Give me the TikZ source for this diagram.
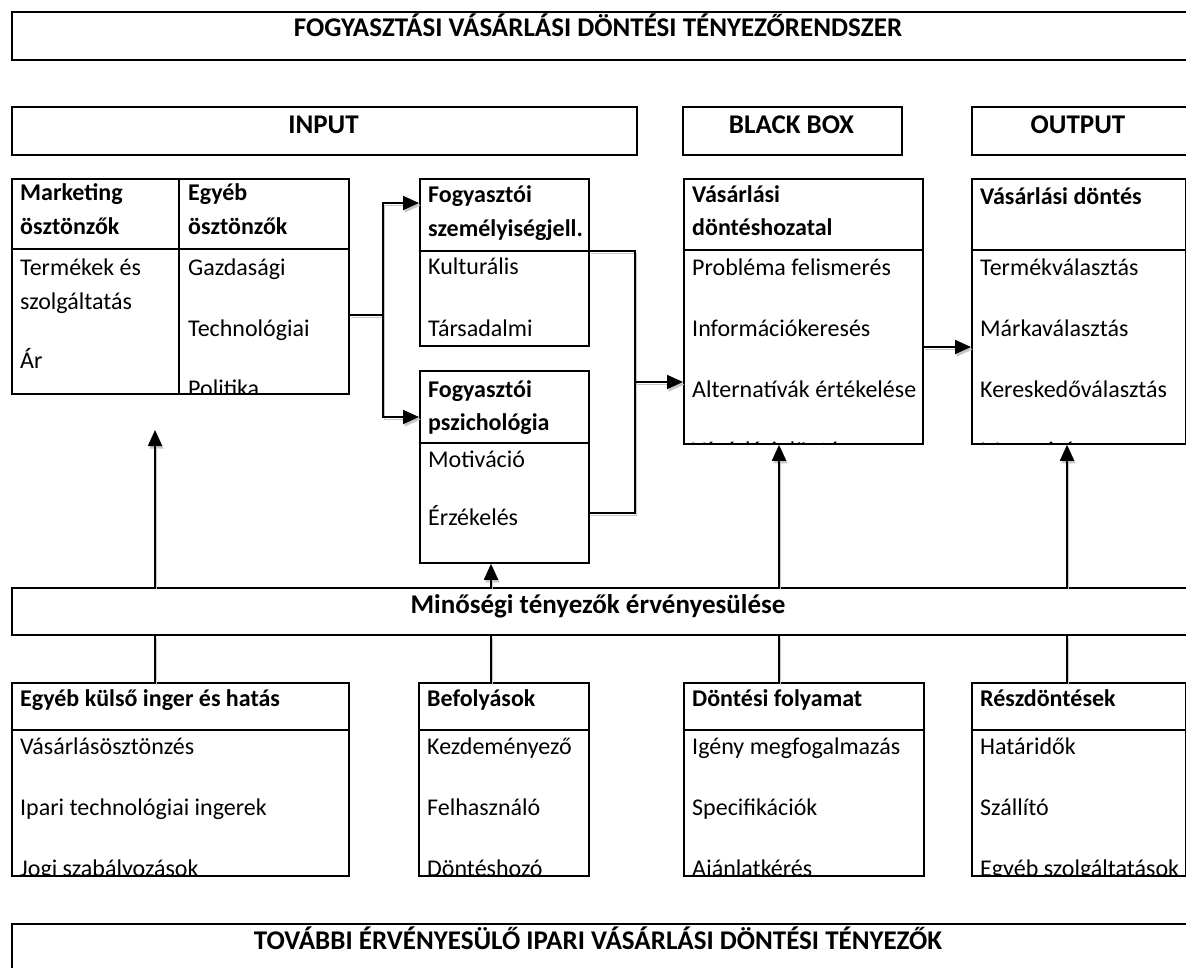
\documentclass[tikz,border=0pt]{standalone}
\usepackage{fontspec}
\setmainfont{Carlito}
\usetikzlibrary{arrows.meta}
\begin{document}
\begin{tikzpicture}[x=1pt,y=-1pt,
  box/.style={draw, line width=1.8pt, inner sep=0pt, anchor=north west},
  rule/.style={line width=1.8pt},
  t/.style={inner sep=0pt, anchor=base west, font=\fontsize{24}{29}\selectfont},
  tb/.style={inner sep=0pt, anchor=base west, font=\fontsize{24}{29}\selectfont\bfseries},
  tc/.style={inner sep=0pt, anchor=base, font=\fontsize{27}{32}\selectfont\bfseries},
  conn/.style={line width=1.8pt,
    preaction={draw=black!22, line width=1.8pt, transform canvas={shift={(1.5pt,-2.5pt)}}}},
  arr/.style={-{Triangle[length=16pt,width=14pt]}},
  darr/.style={{Triangle[length=16pt,width=14pt]}-{Triangle[length=16pt,width=14pt]}}]
\useasboundingbox (0,0) rectangle (1186,968);
\fill[white] (0,0) rectangle (1186,968);
\clip (0,0) rectangle (1186,968);

% ---------- top row ----------
\node[box, line width=2.2pt, minimum width=1184, minimum height=48] (title) at (11,11) {};
\node[tc] (titletxt) at (598,37) {FOGYASZTÁSI VÁSÁRLÁSI DÖNTÉSI TÉNYEZŐRENDSZER};

\node[box, minimum width=625, minimum height=48] (input) at (11,106) {};
\node[tc] (inputtxt) at (323.5,134) {INPUT};
\node[box, minimum width=219, minimum height=48] (bbox) at (682,106) {};
\node[tc] (bboxtxt) at (791.5,134) {BLACK BOX};
\node[box, minimum width=224, minimum height=48] (outp) at (971,106) {};
\node[tc] (outptxt) at (1078,134) {OUTPUT};

% ---------- input table ----------
\node[box, minimum width=337, minimum height=215] (tbl) at (11,178) {};
\draw[rule] (179,178) -- (179,393);
\draw[rule] (11,249) -- (348,249);
\node[tb] (tm1) at (20,201) {Marketing};
\node[tb] (tm2) at (20,235) {ösztönzők};
\node[tb] (te1) at (188,201) {Egyéb};
\node[tb] (te2) at (188,235) {ösztönzők};
\begin{scope}
\clip (11,249) rectangle (348,393);
\node[t] (tb1) at (20,276) {Termékek és};
\node[t] (tb2) at (20,309) {szolgáltatás};
\node[t] (tb3) at (20,368) {Ár};
\node[t] (tb4) at (188,276) {Gazdasági};
\node[t] (tb5) at (188,337) {Technológiai};
\node[t] (tb6) at (188,396) {Politika};
\end{scope}

% ---------- consumer boxes ----------
\node[box, minimum width=169, minimum height=167] (fsz) at (419,178) {};
\draw[rule] (419,251) -- (588,251);
\node[tb] (fsz1) at (428,203) {Fogyasztói};
\node[tb] (fsz2) at (428,237) {személyiségjell.};
\node[t] (fsz3) at (428,275) {Kulturális};
\node[t] (fsz4) at (428,336) {Társadalmi};

\node[box, minimum width=169, minimum height=192] (fps) at (419,370) {};
\draw[rule] (419,443) -- (588,443);
\node[tb] (fps1) at (428,397) {Fogyasztói};
\node[tb] (fps2) at (428,430) {pszichológia};
\node[t] (fps3) at (428,467) {Motiváció};
\node[t] (fps4) at (428,525) {Érzékelés};

% ---------- black box ----------
\node[box, minimum width=239, minimum height=265] (vdh) at (683,178) {};
\draw[rule] (683,250) -- (922,250);
\node[tb] (vdh1) at (692,203) {Vásárlási};
\node[tb] (vdh2) at (692,236) {döntéshozatal};
\begin{scope}
\clip (683,250) rectangle (922,443);
\node[t] (vdh3) at (692,276) {Probléma felismerés};
\node[t] (vdh4) at (692,336) {Információkeresés};
\node[t] (vdh5) at (692,397) {Alternatívák értékelése};
\node[t] (vdh6) at (692,458) {Vásárlási döntés};
\end{scope}

% ---------- output ----------
\node[box, minimum width=214, minimum height=265] (vd) at (971,178) {};
\draw[rule] (971,250) -- (1185,250);
\node[tb] (vd1) at (980,205) {Vásárlási döntés};
\begin{scope}
\clip (971,250) rectangle (1185,443);
\node[t] (vd2) at (980,276) {Termékválasztás};
\node[t] (vd3) at (980,336) {Márkaválasztás};
\node[t] (vd4) at (980,397) {Kereskedőválasztás};
\node[t] (vd5) at (980,458) {Mennyiség};
\end{scope}

% ---------- quality factors ----------
\node[box, minimum width=1184, minimum height=47] (min) at (11,587) {};
\node[tc] (mintxt) at (598,613) {Minőségi tényezők érvényesülése};

% ---------- bottom boxes ----------
\node[box, minimum width=337, minimum height=193] (ext) at (11,682) {};
\draw[rule] (11,730) -- (348,730);
\node[tb] (ext1) at (20,706) {Egyéb külső inger és hatás};
\begin{scope}
\clip (11,730) rectangle (348,875);
\node[t] (ext2) at (20,754) {Vásárlásösztönzés};
\node[t] (ext3) at (20,815) {Ipari technológiai ingerek};
\node[t] (ext4) at (20,876) {Jogi szabályozások};
\end{scope}

\node[box, minimum width=170, minimum height=193] (bef) at (418,682) {};
\draw[rule] (418,730) -- (588,730);
\node[tb] (bef1) at (427,706) {Befolyások};
\begin{scope}
\clip (418,730) rectangle (588,875);
\node[t] (bef2) at (427,754) {Kezdeményező};
\node[t] (bef3) at (427,815) {Felhasználó};
\node[t] (bef4) at (427,876) {Döntéshozó};
\end{scope}

\node[box, minimum width=240, minimum height=193] (dfo) at (683,682) {};
\draw[rule] (683,730) -- (923,730);
\node[tb] (dfo1) at (692,706) {Döntési folyamat};
\begin{scope}
\clip (683,730) rectangle (923,875);
\node[t] (dfo2) at (692,754) {Igény megfogalmazás};
\node[t] (dfo3) at (692,815) {Specifikációk};
\node[t] (dfo4) at (692,876) {Ajánlatkérés};
\end{scope}

\node[box, minimum width=214, minimum height=193] (rd) at (971,682) {};
\draw[rule] (971,730) -- (1185,730);
\node[tb] (rd1) at (980,706) {Részdöntések};
\begin{scope}
\clip (971,730) rectangle (1185,875);
\node[t] (rd2) at (980,754) {Határidők};
\node[t] (rd3) at (980,815) {Szállító};
\node[t] (rd4) at (980,876) {Egyéb szolgáltatások};
\end{scope}

\node[box, line width=2.2pt, minimum width=1184, minimum height=60] (tov) at (11,923) {};
\node[tc] (tovtxt) at (598,949) {TOVÁBBI ÉRVÉNYESÜLŐ IPARI VÁSÁRLÁSI DÖNTÉSI TÉNYEZŐK};

% ---------- helper coordinates ----------
\coordinate (c1) at (155,0);
\coordinate (c2) at (491,0);
\coordinate (c3) at (779,0);
\coordinate (c4) at (1067,0);
\coordinate (t1) at (155,430);
\coordinate (j1) at (383,315);
\coordinate (a1) at (0,203);
\coordinate (a2) at (0,417);
\coordinate (h1) at (0,251);
\coordinate (h2) at (0,513);
\coordinate (j2) at (635,382);
\coordinate (k1) at (0,347);

% ---------- connectors ----------
\draw[conn] (tbl.east |- j1) -- (j1);
\draw[conn,darr] (fsz.west |- a1) -| (j1 |- a2) -- (fps.west |- a2);
\draw[conn] (fsz.east |- h1) -| (j2 |- h2) -- (fps.east |- h2);
\draw[conn,arr] (j2) -- (vdh.west |- j2);
\draw[conn,arr] (vdh.east |- k1) -- (vd.west |- k1);

\draw[conn,arr] (min.north -| c1) -- (t1);
\draw[conn,arr] (min.north -| c2) -- (fps.south -| c2);
\draw[conn,arr] (min.north -| c3) -- (vdh.south -| c3);
\draw[conn,arr] (min.north -| c4) -- (vd.south -| c4);

\draw[conn] (min.south -| c1) -- (ext.north -| c1);
\draw[conn] (min.south -| c2) -- (bef.north -| c2);
\draw[conn] (min.south -| c3) -- (dfo.north -| c3);
\draw[conn] (min.south -| c4) -- (rd.north -| c4);
\end{tikzpicture}
\end{document}
